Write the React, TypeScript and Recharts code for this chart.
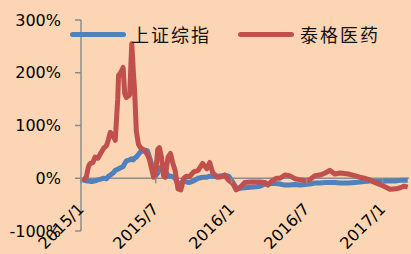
import { LineChart, Line, XAxis, YAxis, ReferenceLine } from 'recharts';

// trading dates
const dates = [
  '2015-01-05', '2015-01-09', '2015-01-14', '2015-01-19', '2015-01-23', '2015-01-30',
  '2015-02-04', '2015-02-11', '2015-02-16', '2015-02-25', '2015-03-04', '2015-03-09',
  '2015-03-13', '2015-03-20', '2015-03-25', '2015-03-31', '2015-04-02', '2015-04-07',
  '2015-04-13', '2015-04-17', '2015-04-21', '2015-04-29', '2015-05-04', '2015-05-06',
  '2015-05-08', '2015-05-11', '2015-05-15', '2015-05-20', '2015-05-25', '2015-06-04',
  '2015-06-11', '2015-06-16', '2015-06-22', '2015-06-26', '2015-07-01', '2015-07-06',
  '2015-07-10', '2015-07-15', '2015-07-20', '2015-07-24', '2015-07-31', '2015-08-06',
  '2015-08-11', '2015-08-17', '2015-08-24', '2015-08-31', '2015-09-07', '2015-09-14',
  '2015-09-21', '2015-10-01', '2015-10-12', '2015-10-23', '2015-11-02', '2015-11-09',
  '2015-11-16', '2015-11-27', '2015-12-08', '2015-12-15', '2015-12-25', '2016-01-04',
  '2016-01-12', '2016-01-21', '2016-02-02', '2016-02-15', '2016-02-29', '2016-03-10',
  '2016-03-22', '2016-03-29', '2016-04-08', '2016-04-18', '2016-04-27', '2016-05-09',
  '2016-05-20', '2016-06-03', '2016-06-15', '2016-06-27', '2016-07-08', '2016-07-21',
  '2016-08-02', '2016-08-15', '2016-08-26', '2016-09-07', '2016-09-20', '2016-10-10',
  '2016-10-25', '2016-11-07', '2016-11-18', '2016-12-01', '2016-12-13', '2016-12-26',
  '2017-01-09', '2017-01-19', '2017-02-03', '2017-02-13', '2017-02-22', '2017-03-03',
];

// 上证综指, % change
const szIndex = [
  -3, -4, -5, -5, -6, -6,
  -5, -3, -2, 0, -1, 4,
  6, 10, 15, 17, 18, 20,
  22, 28, 33, 35, 37, 36,
  35, 38, 40, 45, 50, 53,
  52, 40, 25, 12, 5, 10,
  18, 22, 25, 15, 5, 4,
  3, 0, -12, -9, -5, -7,
  -8, -5, 0, 2, 2, 4,
  4, 4, 5, 6, 4, -8,
  -18, -19, -18, -17, -16, -15,
  -11, -11, -10, -10, -11, -13,
  -13, -12, -13, -12, -11, -9,
  -9, -8, -8, -8, -9, -9,
  -8, -7, -6, -5, -6, -6,
  -5, -5, -5, -4, -4, -4,
];

// 泰格医药, % change
const tigermed = [
  0, -2, 3, 22, 28, 30,
  40, 38, 45, 57, 62, 75,
  87, 80, 72, 150, 195, 200,
  210, 160, 153, 158, 255, 230,
  200, 166, 90, 65, 58, 53,
  45, 35, 15, 2, 10, 55,
  58, 40, 5, 2, 40, 47,
  30, 15, -20, -22, 0, 4,
  3, 12, 15, 28, 18, 30,
  11, 2, 3, 6, -4, -10,
  -22, -18, -8, -7, -7, -7,
  -8, -13, -5, 0, 0, 6,
  5, -1, -3, -4, -3, 5,
  6, 10, 15, 8, 10, 8,
  5, 2, 0, -3, -8, -12,
  -17, -21, -20, -18, -15, -17,
];

const seriesNames = ['上证综指', '泰格医药'];
const seriesColors = ['#4F81BD', '#C0504D'];

const yTicks = [-100, 0, 100, 200, 300];
const xTickDates = ['2015-01-01', '2015-07-01', '2016-01-01', '2016-07-01', '2017-01-01'];
const xTickLabels = ['2015/1', '2015/7', '2016/1', '2016/7', '2017/1'];
const xEndDate = '2017-03-06';

const W = 411;
const H = 254;
const PLOT_TOP = 20;
const PLOT_BOTTOM = 231;
// the horizontal axis crosses at 0% (3/4 of the way down a -100..300 scale)
const ZERO_Y = PLOT_TOP + (PLOT_BOTTOM - PLOT_TOP) * 0.75;
const AXIS = '#8c8c8c';
const FONT = '"DejaVu Sans", sans-serif';

const data = dates.map((d, i) => ({
  t: Date.parse(d),
  sz: szIndex[i],
  tg: tigermed[i],
}));

const xTicks = xTickDates.map((d) => Date.parse(d));
const labelFor = (v: number) => xTickLabels[xTicks.indexOf(v)] ?? '';

function DateTick(props: any) {
  const { x, payload } = props;
  const ly = ZERO_Y + 28;
  return (
    <g>
      <line x1={x} x2={x} y1={ZERO_Y} y2={ZERO_Y + 5} stroke={AXIS} strokeWidth={1.5} />
      <text
        x={x}
        y={ly}
        textAnchor="end"
        dominantBaseline="central"
        transform={`rotate(-45 ${x} ${ly})`}
        fill="#000"
        fontSize={16}
        fontFamily={FONT}
      >
        {labelFor(payload.value)}
      </text>
    </g>
  );
}

function LegendOverlay() {
  const items = [
    { left: 70, text: 131 },
    { left: 238, text: 300 },
  ];
  return (
    <>
      {items.map((it, i) => (
        <div key={seriesNames[i]}>
          <div
            style={{
              position: 'absolute',
              left: it.left,
              top: 32,
              width: 56,
              height: 5,
              borderRadius: 3,
              background: seriesColors[i],
            }}
          />
          <div
            style={{
              position: 'absolute',
              left: it.text,
              top: 22,
              fontSize: 18,
              lineHeight: '24px',
              letterSpacing: 2,
              fontFamily: '"Noto Sans CJK SC", sans-serif',
              color: '#111',
              whiteSpace: 'nowrap',
            }}
          >
            {seriesNames[i]}
          </div>
        </div>
      ))}
    </>
  );
}

export default function App() {
  return (
    <div
      style={{
        position: 'absolute',
        left: 0,
        top: 0,
        width: W,
        height: H,
        background: '#FCD5B4',
        overflow: 'hidden',
      }}
    >
      <LineChart width={W} height={H} data={data} margin={{ top: PLOT_TOP, right: 2, bottom: H - PLOT_BOTTOM - 1, left: 0 }}>
        <XAxis
          dataKey="t"
          type="number"
          scale="time"
          domain={[xTicks[0], Date.parse(xEndDate)]}
          ticks={xTicks}
          interval={0}
          height={1}
          axisLine={false}
          tickLine={false}
          tick={<DateTick />}
        />
        <YAxis
          width={81}
          domain={[-100, 300]}
          ticks={yTicks}
          interval={0}
          tickFormatter={(v) => `${v}%`}
          axisLine={{ stroke: AXIS, strokeWidth: 1.5 }}
          tickLine={{ stroke: AXIS, strokeWidth: 1.5 }}
          tickSize={6}
          tickMargin={14}
          tick={{ fill: '#000', fontSize: 16, fontFamily: FONT }}
        />
        <ReferenceLine y={0} stroke={AXIS} strokeWidth={1.5} />
        <Line
          dataKey="sz"
          name={seriesNames[0]}
          stroke={seriesColors[0]}
          strokeWidth={5}
          strokeLinejoin="round"
          dot={false}
          isAnimationActive={false}
        />
        <Line
          dataKey="tg"
          name={seriesNames[1]}
          stroke={seriesColors[1]}
          strokeWidth={5}
          strokeLinejoin="round"
          dot={false}
          isAnimationActive={false}
        />
      </LineChart>
      <LegendOverlay />
    </div>
  );
}
